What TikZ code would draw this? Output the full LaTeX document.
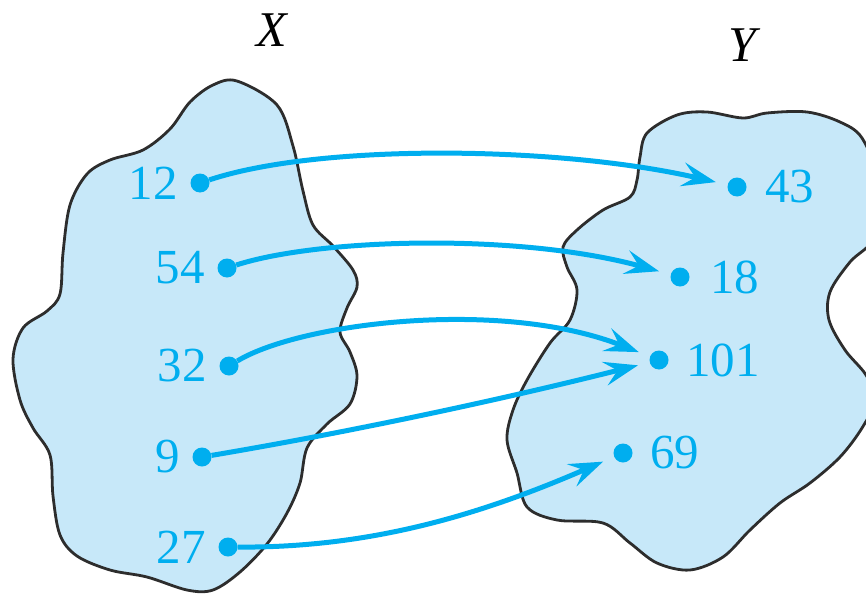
\documentclass[tikz,border=0pt]{standalone}
\usepackage{fontspec}
\setmainfont{Liberation Serif}
\usetikzlibrary{arrows.meta}
\definecolor{fcyan}{RGB}{0,174,239}
\definecolor{blobfill}{RGB}{199,232,249}
\definecolor{blobline}{RGB}{45,45,45}
\tikzset{
  blob/.style={fill=blobfill, draw=blobline, line width=2.8pt},
  dot/.style={circle, fill=fcyan, inner sep=0pt, minimum size=19pt},
  lbl/.style={text=fcyan, inner sep=0pt, font=\fontsize{49}{50}\selectfont},
  setname/.style={inner sep=0pt, font=\fontsize{50}{50}\selectfont\itshape},
  arr/.style={draw=fcyan, line width=5pt, -{Stealth[length=34pt,width=24pt,inset=13pt]}, shorten >=12pt}
}
\begin{document}
\begin{tikzpicture}[x=1pt,y=-1pt]
\useasboundingbox (0,0) rectangle (866,599);
\begin{scope}
\clip (0,0) rectangle (866,599);
% left blob X
\path[blob] plot[smooth cycle, tension=0.55] coordinates {
(237,81) (277,105) (293,146) (303,191) (313,225) (333,246) (353,270) (357,287)
(347,308) (340,332) (350,352) (357,376) (350,404) (327,424) (307,448) (300,483)
(287,513) (267,544) (240,572) (213,590) (187,590) (147,577) (110,570) (77,556)
(60,535) (53,496) (50,455) (33,428) (20,400) (13,359) (23,328) (47,311) (60,294)
(63,253) (70,205) (87,174) (110,160) (143,150) (170,129) (190,102) (213,85)};
% right blob Y
\path[blob] plot[smooth cycle, tension=0.55] coordinates {
(647,133) (677,115) (707,112) (743,118) (767,113) (807,112) (840,122) (862,138)
(878,180) (876,235) (850,262) (830,292) (829,320) (845,350) (866,375) (875,400)
(862,428) (840,457) (810,483) (780,503) (750,530) (723,557) (690,570) (657,563)
(630,543) (603,523) (557,520) (527,507) (517,473) (507,440) (513,410) (527,380)
(550,343) (570,320) (577,290) (567,267) (563,247) (577,230) (603,210) (630,197)
(637,180) (640,157)};
\end{scope}
% set names
\node[setname] (X) at (272,30) {X};
\node[setname] (Y) at (742,45) {Y};
% domain points
\node[dot] (a12) at (200,183) {};
\node[dot] (a54) at (227,268) {};
\node[dot] (a32) at (229,366) {};
\node[dot] (a9)  at (202,457) {};
\node[dot] (a27) at (228,547) {};
\node[lbl, anchor=east] (l12) at ([xshift=-22pt]a12.center) {12};
\node[lbl, anchor=east] (l54) at ([xshift=-22pt]a54.center) {54};
\node[lbl, anchor=east] (l32) at ([xshift=-22pt]a32.center) {32};
\node[lbl, anchor=east] (l9)  at ([xshift=-22pt]a9.center) {9};
\node[lbl, anchor=east] (l27) at ([xshift=-22pt]a27.center) {27};
% codomain points
\node[dot] (b43)  at (737,187) {};
\node[dot] (b18)  at (680,277) {};
\node[dot] (b101) at (659,360) {};
\node[dot] (b69)  at (623,453) {};
\node[lbl, anchor=west] (m43)  at ([xshift=28pt]b43.center) {43};
\node[lbl, anchor=west] (m18)  at ([xshift=30pt]b18.center) {18};
\node[lbl, anchor=west] (m101) at ([xshift=27pt]b101.center) {101};
\node[lbl, anchor=west] (m69)  at ([xshift=27pt]b69.center) {69};
% mapping arrows
\draw[arr] (a12) .. controls (320,143) and (560,146) .. (b43);
\draw[arr] (a54) .. controls (320,238) and (520,233) .. (b18);
\draw[arr] (a32) .. controls (300,323) and (500,298) .. (b101);
\draw[arr] (a9)  .. controls (350,432) and (500,400) .. (b101);
\draw[arr] (a27) .. controls (370,548) and (480,515) .. (b69);
\end{tikzpicture}
\end{document}
